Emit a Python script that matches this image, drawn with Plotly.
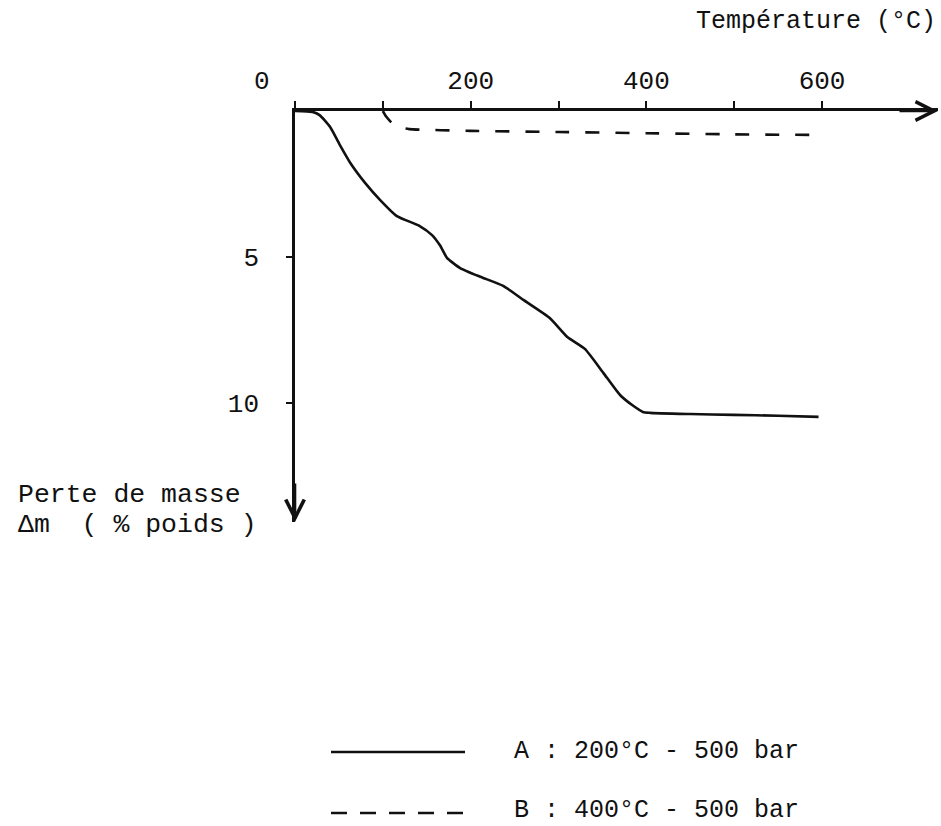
import plotly.graph_objects as go

# Température (°C) and perte de masse (% poids) for the two samples
temp_a = [0, 20, 28, 40, 51, 63, 80, 97, 116, 142, 156, 165, 173, 188, 211, 237,
          260, 290, 310, 330, 351, 370, 385, 396, 404, 450, 499, 550, 596]
loss_a = [0, 0.03, 0.14, 0.55, 1.16, 1.78, 2.47, 3.05, 3.6, 3.94, 4.25, 4.6, 5.03,
          5.38, 5.68, 5.99, 6.47, 7.09, 7.74, 8.15, 8.97, 9.73, 10.1, 10.31, 10.34,
          10.38, 10.41, 10.44, 10.48]

temp_b = [100, 104, 110, 118, 130, 200, 300, 400, 500, 600]
loss_b = [0, 0.2, 0.4, 0.55, 0.62, 0.68, 0.72, 0.76, 0.8, 0.82]

x_tick_vals = [0, 100, 200, 300, 400, 500, 600]
x_tick_text = ["", "", "200", "", "400", "", "600"]
y_tick_vals = [5, 10]
y_tick_text = ["5", "10"]

label_a = "A : 200°C - 500 bar"
label_b = "B : 400°C - 500 bar"

W, H = 941, 826
ML, MR, MT, MB = 295, 3, 111, 304
X_MAX = 732
Y_MAX = 14.08

FONT = "Liberation Mono"
INK = "#111111"


def px(x):
    return (x - ML) / (W - ML - MR)


def py(y):
    return (H - MB - y) / (H - MT - MB)


fig = go.Figure()
fig.add_trace(go.Scatter(x=temp_a, y=loss_a, mode="lines",
                         line=dict(color=INK, width=2.6, shape="spline", smoothing=0.5),
                         name=label_a, showlegend=False, cliponaxis=False))
fig.add_trace(go.Scatter(x=temp_b, y=loss_b, mode="lines",
                         line=dict(color=INK, width=2.6, dash="14px,16px", shape="spline", smoothing=0.5),
                         name=label_b, showlegend=False, cliponaxis=False))

fig.update_xaxes(range=[0, X_MAX], side="top", showgrid=False, zeroline=False,
                 showline=True, linecolor=INK, linewidth=2.6,
                 ticks="outside", ticklen=7, tickwidth=2.2, tickcolor=INK,
                 tickvals=x_tick_vals, ticktext=x_tick_text, ticklabelstandoff=2,
                 tickfont=dict(family=FONT, size=26, color=INK))
fig.update_yaxes(range=[Y_MAX, 0], showgrid=False, zeroline=False,
                 showline=True, linecolor=INK, linewidth=2.6,
                 ticks="outside", ticklen=6, tickwidth=2.2, tickcolor=INK,
                 tickvals=y_tick_vals, ticktext=y_tick_text, ticklabelstandoff=22,
                 tickfont=dict(family=FONT, size=26, color=INK))

annotations = [
    # arrow heads at the ends of both axes
    dict(x=X_MAX, y=0, xref="x", yref="y", ax=-40, ay=0, showarrow=True,
         arrowhead=5, arrowsize=1.4, arrowwidth=2.6, arrowcolor=INK, text=""),
    dict(x=0, y=Y_MAX, xref="x", yref="y", ax=0, ay=-40, showarrow=True,
         arrowhead=5, arrowsize=1.4, arrowwidth=2.6, arrowcolor=INK, text=""),
    dict(x=px(262), y=py(82), xref="paper", yref="paper", text="0", showarrow=False,
         xanchor="center", yanchor="middle", font=dict(family=FONT, size=26, color=INK)),
    dict(x=px(938), y=py(22), xref="paper", yref="paper", text="Température (°C)",
         showarrow=False, xanchor="right", yanchor="middle",
         font=dict(family=FONT, size=25, color=INK)),
    dict(x=px(16), y=py(495), xref="paper", yref="paper", text="Perte de masse",
         showarrow=False, xanchor="left", yanchor="middle",
         font=dict(family=FONT, size=26.5, color=INK)),
    dict(x=px(16), y=py(525), xref="paper", yref="paper", text="Δm  ( % poids )",
         showarrow=False, xanchor="left", yanchor="middle",
         font=dict(family=FONT, size=26.5, color=INK)),
    dict(x=px(512), y=py(751), xref="paper", yref="paper", text=label_a,
         showarrow=False, xanchor="left", yanchor="middle",
         font=dict(family=FONT, size=25, color=INK)),
    dict(x=px(512), y=py(810), xref="paper", yref="paper", text=label_b,
         showarrow=False, xanchor="left", yanchor="middle",
         font=dict(family=FONT, size=25, color=INK)),
]

shapes = [
    dict(type="line", xref="paper", yref="paper", x0=px(331), x1=px(465),
         y0=py(752), y1=py(752), line=dict(color=INK, width=2.6)),
    dict(type="line", xref="paper", yref="paper", x0=px(331), x1=px(465),
         y0=py(813), y1=py(813), line=dict(color=INK, width=2.6, dash="16px,13px")),
]

fig.update_layout(width=W, height=H, margin=dict(l=ML, r=MR, t=MT, b=MB),
                  paper_bgcolor="white", plot_bgcolor="white",
                  annotations=annotations, shapes=shapes, showlegend=False)

fig.write_html("out.html")
